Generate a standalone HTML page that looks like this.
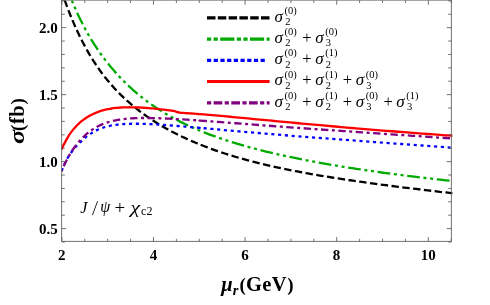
<!DOCTYPE html>
<html><head><meta charset="utf-8"><title>plot</title>
<style>html,body{margin:0;padding:0;background:#fff;}svg{display:block;will-change:transform;}text{font-family:"Liberation Serif",serif;fill:#000;}</style></head>
<body>
<svg width="490" height="305" viewBox="0 0 490 305">
<rect x="0" y="0" width="490" height="305" fill="#fff"/>
<defs><clipPath id="cp"><rect x="61.6" y="0" width="391.0" height="241.4"/></clipPath></defs>
<g clip-path="url(#cp)" fill="none" stroke-linejoin="round">
<path d="M61.60,-7.63 C61.93,-6.79 62.93,-4.33 63.60,-2.61 C64.27,-0.89 64.93,0.93 65.60,2.71 C66.27,4.49 66.93,6.29 67.60,8.05 C68.27,9.81 68.93,11.55 69.60,13.24 C70.27,14.93 70.93,16.58 71.60,18.19 C72.27,19.80 72.93,21.37 73.60,22.90 C74.27,24.44 74.93,25.94 75.60,27.41 C76.27,28.88 76.93,30.32 77.60,31.73 C78.27,33.15 78.93,34.53 79.60,35.89 C80.27,37.25 80.93,38.59 81.60,39.90 C82.27,41.21 82.93,42.50 83.60,43.76 C84.27,45.03 84.93,46.27 85.60,47.49 C86.27,48.71 86.93,49.91 87.60,51.08 C88.27,52.25 88.93,53.41 89.60,54.54 C90.27,55.67 90.93,56.78 91.60,57.86 C92.27,58.95 92.93,60.02 93.60,61.07 C94.27,62.12 94.93,63.14 95.60,64.15 C96.27,65.16 96.93,66.15 97.60,67.12 C98.27,68.10 98.93,69.05 99.60,69.98 C100.27,70.92 100.93,71.84 101.60,72.74 C102.27,73.64 102.93,74.52 103.60,75.39 C104.27,76.26 104.93,77.11 105.60,77.95 C106.27,78.79 106.93,79.61 107.60,80.42 C108.27,81.23 108.93,82.03 109.60,82.81 C110.27,83.59 110.93,84.36 111.60,85.12 C112.27,85.88 112.93,86.62 113.60,87.36 C114.27,88.09 114.93,88.81 115.60,89.52 C116.27,90.23 116.93,90.93 117.60,91.62 C118.27,92.31 118.93,92.98 119.60,93.65 C120.27,94.32 120.93,94.98 121.60,95.62 C122.27,96.27 122.93,96.91 123.60,97.54 C124.27,98.17 124.93,98.79 125.60,99.40 C126.27,100.01 126.93,100.62 127.60,101.21 C128.27,101.81 128.93,102.39 129.60,102.97 C130.27,103.55 130.93,104.12 131.60,104.68 C132.27,105.25 132.93,105.80 133.60,106.35 C134.27,106.90 134.93,107.44 135.60,107.97 C136.27,108.51 136.93,109.03 137.60,109.55 C138.27,110.07 138.93,110.59 139.60,111.10 C140.27,111.60 140.93,112.10 141.60,112.60 C142.27,113.09 142.93,113.58 143.60,114.07 C144.27,114.55 144.93,115.02 145.60,115.50 C146.27,115.97 146.93,116.43 147.60,116.89 C148.27,117.35 148.93,117.81 149.60,118.26 C150.27,118.71 150.93,119.15 151.60,119.59 C152.27,120.03 152.93,120.46 153.60,120.89 C154.27,121.32 154.93,121.75 155.60,122.17 C156.27,122.59 156.93,123.00 157.60,123.41 C158.27,123.82 158.93,124.23 159.60,124.63 C160.27,125.03 160.93,125.43 161.60,125.82 C162.27,126.21 162.93,126.60 163.60,126.98 C164.27,127.37 164.93,127.75 165.60,128.13 C166.27,128.50 166.93,128.87 167.60,129.24 C168.27,129.61 168.93,129.97 169.60,130.34 C170.27,130.70 170.93,131.05 171.60,131.41 C172.27,131.76 172.93,132.11 173.60,132.46 C174.27,132.80 174.93,133.14 175.60,133.48 C176.27,133.82 176.93,134.16 177.60,134.49 C178.27,134.82 178.93,135.15 179.60,135.48 C180.27,135.81 180.93,136.13 181.60,136.45 C182.27,136.77 182.93,137.08 183.60,137.40 C184.27,137.71 184.93,138.02 185.60,138.33 C186.27,138.64 186.93,138.94 187.60,139.24 C188.27,139.54 188.93,139.84 189.60,140.14 C190.27,140.43 190.93,140.73 191.60,141.02 C192.27,141.31 192.93,141.59 193.60,141.88 C194.27,142.16 194.93,142.45 195.60,142.73 C196.27,143.01 196.93,143.28 197.60,143.56 C198.27,143.83 199.20,144.21 199.60,144.37 C200.00,144.54 198.93,144.12 200.00,144.53 C201.07,144.95 204.00,146.12 206.00,146.89 C208.00,147.65 210.00,148.39 212.00,149.12 C214.00,149.84 216.00,150.55 218.00,151.23 C220.00,151.92 222.00,152.59 224.00,153.25 C226.00,153.90 228.00,154.54 230.00,155.16 C232.00,155.78 234.00,156.39 236.00,156.98 C238.00,157.57 240.00,158.15 242.00,158.71 C244.00,159.27 246.00,159.82 248.00,160.36 C250.00,160.90 252.00,161.42 254.00,161.94 C256.00,162.45 258.00,162.95 260.00,163.44 C262.00,163.93 264.00,164.41 266.00,164.88 C268.00,165.35 270.00,165.80 272.00,166.25 C274.00,166.70 276.00,167.14 278.00,167.57 C280.00,168.00 282.00,168.42 284.00,168.83 C286.00,169.25 288.00,169.65 290.00,170.05 C292.00,170.45 294.00,170.84 296.00,171.22 C298.00,171.61 300.00,171.98 302.00,172.35 C304.00,172.72 306.00,173.09 308.00,173.45 C310.00,173.80 312.00,174.16 314.00,174.50 C316.00,174.85 318.00,175.19 320.00,175.53 C322.00,175.87 324.00,176.20 326.00,176.52 C328.00,176.85 330.00,177.17 332.00,177.49 C334.00,177.81 336.00,178.12 338.00,178.43 C340.00,178.74 342.00,179.05 344.00,179.35 C346.00,179.65 348.00,179.95 350.00,180.25 C352.00,180.54 354.00,180.83 356.00,181.12 C358.00,181.41 360.00,181.70 362.00,181.98 C364.00,182.26 366.00,182.54 368.00,182.81 C370.00,183.09 372.00,183.36 374.00,183.63 C376.00,183.90 378.00,184.17 380.00,184.44 C382.00,184.70 384.00,184.97 386.00,185.23 C388.00,185.49 390.00,185.75 392.00,186.00 C394.00,186.26 396.00,186.51 398.00,186.77 C400.00,187.02 402.00,187.27 404.00,187.52 C406.00,187.76 408.00,188.01 410.00,188.25 C412.00,188.50 414.00,188.74 416.00,188.98 C418.00,189.22 420.00,189.46 422.00,189.70 C424.00,189.94 426.00,190.17 428.00,190.41 C430.00,190.64 432.00,190.88 434.00,191.11 C436.00,191.34 438.00,191.57 440.00,191.80 C442.00,192.03 444.10,192.27 446.00,192.48 C447.90,192.70 450.30,192.96 451.40,193.09 C452.50,193.21 452.40,193.20 452.60,193.22" stroke="#000" stroke-width="2.3" stroke-dasharray="7.4 3.465" stroke-dashoffset="2.8"/>
<path d="M68.60,-7.86 C68.93,-7.00 69.93,-4.36 70.60,-2.67 C71.27,-0.97 71.93,0.68 72.60,2.30 C73.27,3.91 73.93,5.49 74.60,7.04 C75.27,8.58 75.93,10.09 76.60,11.57 C77.27,13.05 77.93,14.49 78.60,15.91 C79.27,17.32 79.93,18.71 80.60,20.06 C81.27,21.42 81.93,22.74 82.60,24.05 C83.27,25.35 83.93,26.62 84.60,27.87 C85.27,29.12 85.93,30.34 86.60,31.54 C87.27,32.74 87.93,33.91 88.60,35.07 C89.27,36.22 89.93,37.35 90.60,38.46 C91.27,39.57 91.93,40.66 92.60,41.73 C93.27,42.81 93.93,43.86 94.60,44.89 C95.27,45.92 95.93,46.94 96.60,47.93 C97.27,48.93 97.93,49.91 98.60,50.88 C99.27,51.84 99.93,52.79 100.60,53.72 C101.27,54.66 101.93,55.57 102.60,56.48 C103.27,57.38 103.93,58.27 104.60,59.15 C105.27,60.03 105.93,60.89 106.60,61.74 C107.27,62.59 107.93,63.43 108.60,64.25 C109.27,65.08 109.93,65.89 110.60,66.69 C111.27,67.50 111.93,68.29 112.60,69.07 C113.27,69.85 113.93,70.61 114.60,71.37 C115.27,72.13 115.93,72.88 116.60,73.62 C117.27,74.35 117.93,75.08 118.60,75.80 C119.27,76.52 119.93,77.22 120.60,77.92 C121.27,78.62 121.93,79.31 122.60,79.99 C123.27,80.67 123.93,81.34 124.60,82.00 C125.27,82.66 125.93,83.31 126.60,83.96 C127.27,84.60 127.93,85.24 128.60,85.87 C129.27,86.49 129.93,87.11 130.60,87.72 C131.27,88.33 131.93,88.94 132.60,89.53 C133.27,90.13 133.93,90.72 134.60,91.30 C135.27,91.88 135.93,92.45 136.60,93.02 C137.27,93.58 137.93,94.14 138.60,94.69 C139.27,95.24 139.93,95.79 140.60,96.32 C141.27,96.86 141.93,97.39 142.60,97.92 C143.27,98.44 143.93,98.96 144.60,99.47 C145.27,99.98 145.93,100.49 146.60,100.98 C147.27,101.48 147.93,101.98 148.60,102.46 C149.27,102.95 149.93,103.43 150.60,103.90 C151.27,104.38 151.93,104.85 152.60,105.31 C153.27,105.78 153.93,106.23 154.60,106.69 C155.27,107.14 155.93,107.58 156.60,108.03 C157.27,108.47 157.93,108.90 158.60,109.34 C159.27,109.77 159.93,110.19 160.60,110.61 C161.27,111.03 161.93,111.45 162.60,111.86 C163.27,112.27 163.93,112.68 164.60,113.08 C165.27,113.48 165.93,113.88 166.60,114.27 C167.27,114.66 167.93,115.05 168.60,115.43 C169.27,115.82 169.93,116.19 170.60,116.57 C171.27,116.94 171.93,117.31 172.60,117.68 C173.27,118.04 173.93,118.41 174.60,118.76 C175.27,119.12 175.93,119.47 176.60,119.82 C177.27,120.17 177.93,120.52 178.60,120.86 C179.27,121.20 179.93,121.54 180.60,121.87 C181.27,122.21 181.93,122.54 182.60,122.87 C183.27,123.19 183.93,123.52 184.60,123.84 C185.27,124.16 185.93,124.47 186.60,124.79 C187.27,125.10 187.93,125.41 188.60,125.72 C189.27,126.03 189.93,126.33 190.60,126.63 C191.27,126.93 191.93,127.23 192.60,127.52 C193.27,127.82 193.93,128.11 194.60,128.40 C195.27,128.69 195.93,128.98 196.60,129.26 C197.27,129.54 198.03,129.86 198.60,130.10 C199.17,130.34 198.77,130.18 200.00,130.68 C201.23,131.18 204.00,132.30 206.00,133.08 C208.00,133.86 210.00,134.62 212.00,135.35 C214.00,136.09 216.00,136.81 218.00,137.51 C220.00,138.21 222.00,138.89 224.00,139.56 C226.00,140.22 228.00,140.87 230.00,141.51 C232.00,142.14 234.00,142.76 236.00,143.37 C238.00,143.97 240.00,144.57 242.00,145.14 C244.00,145.72 246.00,146.29 248.00,146.84 C250.00,147.40 252.00,147.94 254.00,148.47 C256.00,149.00 258.00,149.52 260.00,150.03 C262.00,150.54 264.00,151.04 266.00,151.53 C268.00,152.02 270.00,152.50 272.00,152.97 C274.00,153.45 276.00,153.91 278.00,154.36 C280.00,154.82 282.00,155.26 284.00,155.70 C286.00,156.14 288.00,156.57 290.00,156.99 C292.00,157.42 294.00,157.83 296.00,158.24 C298.00,158.65 300.00,159.05 302.00,159.45 C304.00,159.84 306.00,160.23 308.00,160.61 C310.00,160.99 312.00,161.37 314.00,161.74 C316.00,162.11 318.00,162.48 320.00,162.84 C322.00,163.20 324.00,163.55 326.00,163.90 C328.00,164.25 330.00,164.59 332.00,164.93 C334.00,165.27 336.00,165.60 338.00,165.93 C340.00,166.26 342.00,166.59 344.00,166.91 C346.00,167.23 348.00,167.54 350.00,167.85 C352.00,168.17 354.00,168.47 356.00,168.78 C358.00,169.08 360.00,169.38 362.00,169.68 C364.00,169.97 366.00,170.26 368.00,170.55 C370.00,170.84 372.00,171.13 374.00,171.41 C376.00,171.69 378.00,171.97 380.00,172.24 C382.00,172.52 384.00,172.79 386.00,173.06 C388.00,173.32 390.00,173.59 392.00,173.85 C394.00,174.11 396.00,174.37 398.00,174.63 C400.00,174.89 402.00,175.14 404.00,175.39 C406.00,175.64 408.00,175.89 410.00,176.13 C412.00,176.38 414.00,176.62 416.00,176.86 C418.00,177.10 420.00,177.34 422.00,177.58 C424.00,177.81 426.00,178.04 428.00,178.27 C430.00,178.50 432.00,178.73 434.00,178.96 C436.00,179.19 438.00,179.41 440.00,179.63 C442.00,179.85 444.33,180.11 446.00,180.29 C447.67,180.47 449.33,180.65 450.00,180.72" stroke="#00aa00" stroke-width="2.3" stroke-dasharray="3 3.7 3 3.7 12.7 3.7" stroke-dashoffset="20.9"/>
<path d="M61.60,171.12 C61.93,170.26 62.93,167.54 63.60,165.96 C64.27,164.39 64.93,162.99 65.60,161.67 C66.27,160.34 66.93,159.14 67.60,158.00 C68.27,156.86 68.93,155.81 69.60,154.81 C70.27,153.80 70.93,152.87 71.60,151.97 C72.27,151.07 72.93,150.22 73.60,149.40 C74.27,148.57 74.93,147.79 75.60,147.03 C76.27,146.27 76.93,145.54 77.60,144.83 C78.27,144.12 78.93,143.43 79.60,142.77 C80.27,142.10 80.93,141.46 81.60,140.83 C82.27,140.21 82.93,139.61 83.60,139.03 C84.27,138.46 84.93,137.90 85.60,137.37 C86.27,136.83 86.93,136.32 87.60,135.83 C88.27,135.34 88.93,134.87 89.60,134.41 C90.27,133.96 90.93,133.53 91.60,133.12 C92.27,132.70 92.93,132.31 93.60,131.93 C94.27,131.55 94.93,131.19 95.60,130.85 C96.27,130.51 96.93,130.18 97.60,129.87 C98.27,129.56 98.93,129.27 99.60,128.99 C100.27,128.71 100.93,128.45 101.60,128.20 C102.27,127.95 102.93,127.71 103.60,127.49 C104.27,127.27 104.93,127.07 105.60,126.88 C106.27,126.69 106.93,126.52 107.60,126.35 C108.27,126.19 108.93,126.03 109.60,125.89 C110.27,125.75 110.93,125.62 111.60,125.49 C112.27,125.37 112.93,125.25 113.60,125.14 C114.27,125.04 114.93,124.94 115.60,124.85 C116.27,124.75 116.93,124.67 117.60,124.59 C118.27,124.51 118.93,124.44 119.60,124.38 C120.27,124.31 120.93,124.25 121.60,124.20 C122.27,124.15 122.93,124.10 123.60,124.05 C124.27,124.01 124.93,123.97 125.60,123.94 C126.27,123.90 126.93,123.88 127.60,123.85 C128.27,123.82 128.93,123.80 129.60,123.79 C130.27,123.77 130.93,123.76 131.60,123.74 C132.27,123.73 132.93,123.73 133.60,123.72 C134.27,123.72 134.93,123.72 135.60,123.72 C136.27,123.72 136.93,123.73 137.60,123.74 C138.27,123.74 138.93,123.75 139.60,123.77 C140.27,123.78 140.93,123.79 141.60,123.81 C142.27,123.83 142.93,123.84 143.60,123.87 C144.27,123.89 144.93,123.91 145.60,123.93 C146.27,123.96 146.93,123.98 147.60,124.01 C148.27,124.04 148.93,124.07 149.60,124.10 C150.27,124.13 150.93,124.16 151.60,124.20 C152.27,124.23 152.93,124.27 153.60,124.30 C154.27,124.34 154.93,124.38 155.60,124.41 C156.27,124.45 156.93,124.49 157.60,124.53 C158.27,124.57 158.93,124.61 159.60,124.66 C160.27,124.70 160.93,124.74 161.60,124.79 C162.27,124.83 162.93,124.88 163.60,124.92 C164.27,124.97 164.93,125.01 165.60,125.06 C166.27,125.11 166.93,125.16 167.60,125.21 C168.27,125.25 168.93,125.30 169.60,125.35 C170.27,125.40 170.93,125.45 171.60,125.50 C172.27,125.56 172.93,125.61 173.60,125.66 C174.27,125.71 174.93,125.76 175.60,125.82 C176.27,125.87 176.93,125.92 177.60,125.98 C178.27,126.03 178.93,126.08 179.60,126.14 C180.27,126.19 180.93,126.25 181.60,126.30 C182.27,126.36 182.93,126.42 183.60,126.47 C184.27,126.53 184.93,126.58 185.60,126.64 C186.27,126.70 186.93,126.75 187.60,126.81 C188.27,126.87 188.93,126.93 189.60,126.98 C190.27,127.04 190.93,127.10 191.60,127.16 C192.27,127.21 192.93,127.27 193.60,127.33 C194.27,127.39 194.93,127.45 195.60,127.51 C196.27,127.57 196.93,127.62 197.60,127.68 C198.27,127.74 199.20,127.83 199.60,127.86 C200.00,127.90 198.93,127.80 200.00,127.90 C201.07,127.99 204.00,128.25 206.00,128.43 C208.00,128.61 210.00,128.79 212.00,128.97 C214.00,129.15 216.00,129.33 218.00,129.51 C220.00,129.69 222.00,129.87 224.00,130.05 C226.00,130.23 228.00,130.41 230.00,130.59 C232.00,130.77 234.00,130.94 236.00,131.12 C238.00,131.30 240.00,131.47 242.00,131.65 C244.00,131.83 246.00,132.00 248.00,132.17 C250.00,132.35 252.00,132.52 254.00,132.69 C256.00,132.86 258.00,133.03 260.00,133.20 C262.00,133.37 264.00,133.54 266.00,133.70 C268.00,133.87 270.00,134.03 272.00,134.20 C274.00,134.36 276.00,134.53 278.00,134.69 C280.00,134.85 282.00,135.01 284.00,135.17 C286.00,135.33 288.00,135.49 290.00,135.65 C292.00,135.81 294.00,135.97 296.00,136.13 C298.00,136.29 300.00,136.44 302.00,136.60 C304.00,136.76 306.00,136.91 308.00,137.07 C310.00,137.22 312.00,137.38 314.00,137.53 C316.00,137.68 318.00,137.84 320.00,137.99 C322.00,138.14 324.00,138.30 326.00,138.45 C328.00,138.60 330.00,138.75 332.00,138.90 C334.00,139.06 336.00,139.21 338.00,139.36 C340.00,139.51 342.00,139.66 344.00,139.81 C346.00,139.96 348.00,140.11 350.00,140.25 C352.00,140.40 354.00,140.55 356.00,140.70 C358.00,140.85 360.00,141.00 362.00,141.14 C364.00,141.29 366.00,141.44 368.00,141.59 C370.00,141.73 372.00,141.88 374.00,142.03 C376.00,142.17 378.00,142.32 380.00,142.47 C382.00,142.61 384.00,142.76 386.00,142.90 C388.00,143.05 390.00,143.19 392.00,143.34 C394.00,143.48 396.00,143.63 398.00,143.77 C400.00,143.92 402.00,144.06 404.00,144.21 C406.00,144.35 408.00,144.49 410.00,144.64 C412.00,144.78 414.00,144.93 416.00,145.07 C418.00,145.21 420.00,145.36 422.00,145.50 C424.00,145.64 426.00,145.78 428.00,145.93 C430.00,146.07 432.00,146.21 434.00,146.36 C436.00,146.50 438.00,146.64 440.00,146.78 C442.00,146.92 444.23,147.08 446.00,147.21 C447.77,147.33 449.83,147.48 450.60,147.53" stroke="#0000ff" stroke-width="2.3" stroke-dasharray="3.1 3.7"/>
<path d="M61.60,149.55 C61.93,148.80 62.93,146.49 63.60,145.08 C64.27,143.68 64.93,142.38 65.60,141.13 C66.27,139.89 66.93,138.73 67.60,137.62 C68.27,136.51 68.93,135.47 69.60,134.48 C70.27,133.49 70.93,132.56 71.60,131.66 C72.27,130.77 72.93,129.94 73.60,129.13 C74.27,128.33 74.93,127.58 75.60,126.85 C76.27,126.13 76.93,125.45 77.60,124.79 C78.27,124.14 78.93,123.53 79.60,122.93 C80.27,122.33 80.93,121.76 81.60,121.22 C82.27,120.67 82.93,120.15 83.60,119.66 C84.27,119.16 84.93,118.69 85.60,118.24 C86.27,117.79 86.93,117.36 87.60,116.95 C88.27,116.54 88.93,116.15 89.60,115.78 C90.27,115.41 90.93,115.05 91.60,114.71 C92.27,114.38 92.93,114.06 93.60,113.75 C94.27,113.44 94.93,113.15 95.60,112.87 C96.27,112.60 96.93,112.33 97.60,112.08 C98.27,111.83 98.93,111.59 99.60,111.37 C100.27,111.14 100.93,110.93 101.60,110.72 C102.27,110.52 102.93,110.32 103.60,110.14 C104.27,109.96 104.93,109.79 105.60,109.63 C106.27,109.48 106.93,109.34 107.60,109.20 C108.27,109.07 108.93,108.94 109.60,108.83 C110.27,108.71 110.93,108.60 111.60,108.50 C112.27,108.40 112.93,108.30 113.60,108.22 C114.27,108.13 114.93,108.05 115.60,107.98 C116.27,107.90 116.93,107.84 117.60,107.78 C118.27,107.72 118.93,107.66 119.60,107.61 C120.27,107.56 120.93,107.52 121.60,107.48 C122.27,107.45 122.93,107.42 123.60,107.39 C124.27,107.36 124.93,107.34 125.60,107.32 C126.27,107.30 126.93,107.29 127.60,107.28 C128.27,107.27 128.93,107.27 129.60,107.27 C130.27,107.27 130.93,107.27 131.60,107.28 C132.27,107.28 132.93,107.29 133.60,107.31 C134.27,107.32 134.93,107.34 135.60,107.36 C136.27,107.38 136.93,107.40 137.60,107.43 C138.27,107.46 138.93,107.49 139.60,107.52 C140.27,107.55 140.93,107.59 141.60,107.63 C142.27,107.67 142.93,107.71 143.60,107.75 C144.27,107.79 144.93,107.84 145.60,107.89 C146.27,107.93 146.93,107.99 147.60,108.04 C148.27,108.09 148.93,108.14 149.60,108.20 C150.27,108.26 150.93,108.32 151.60,108.38 C152.27,108.44 152.93,108.50 153.60,108.57 C154.27,108.63 154.93,108.70 155.60,108.76 C156.27,108.83 156.93,108.90 157.60,108.97 C158.27,109.04 158.93,109.12 159.60,109.19 C160.27,109.27 160.93,109.34 161.60,109.42 C162.27,109.50 162.93,109.57 163.60,109.65 C164.27,109.73 164.93,109.81 165.60,109.90 C166.27,109.98 166.93,110.06 167.60,110.15 C168.27,110.23 168.93,110.32 169.60,110.41 C170.27,110.49 170.93,110.58 171.60,110.67 C172.27,110.76 172.77,110.75 173.60,110.94 C174.43,111.13 175.58,111.51 176.60,111.80 C177.62,112.09 178.80,112.52 179.70,112.69 C180.60,112.86 181.28,112.79 182.00,112.83 C182.72,112.88 183.33,112.92 184.00,112.96 C184.67,113.01 185.33,113.05 186.00,113.10 C186.67,113.14 187.33,113.19 188.00,113.24 C188.67,113.28 189.33,113.33 190.00,113.38 C190.67,113.43 191.33,113.48 192.00,113.52 C192.67,113.57 193.33,113.62 194.00,113.67 C194.67,113.73 195.33,113.78 196.00,113.83 C196.67,113.88 197.33,113.93 198.00,113.98 C198.67,114.04 198.67,114.03 200.00,114.14 C201.33,114.25 204.00,114.47 206.00,114.64 C208.00,114.80 210.00,114.97 212.00,115.15 C214.00,115.32 216.00,115.50 218.00,115.67 C220.00,115.85 222.00,116.03 224.00,116.21 C226.00,116.40 228.00,116.58 230.00,116.76 C232.00,116.95 234.00,117.13 236.00,117.32 C238.00,117.51 240.00,117.69 242.00,117.88 C244.00,118.07 246.00,118.26 248.00,118.45 C250.00,118.64 252.00,118.83 254.00,119.02 C256.00,119.21 258.00,119.40 260.00,119.59 C262.00,119.78 264.00,119.97 266.00,120.16 C268.00,120.35 270.00,120.54 272.00,120.73 C274.00,120.92 276.00,121.11 278.00,121.29 C280.00,121.48 282.00,121.67 284.00,121.86 C286.00,122.05 288.00,122.24 290.00,122.42 C292.00,122.61 294.00,122.80 296.00,122.98 C298.00,123.17 300.00,123.35 302.00,123.54 C304.00,123.72 306.00,123.91 308.00,124.09 C310.00,124.27 312.00,124.45 314.00,124.64 C316.00,124.82 318.00,125.00 320.00,125.18 C322.00,125.36 324.00,125.54 326.00,125.71 C328.00,125.89 330.00,126.07 332.00,126.25 C334.00,126.42 336.00,126.60 338.00,126.77 C340.00,126.95 342.00,127.12 344.00,127.30 C346.00,127.47 348.00,127.64 350.00,127.81 C352.00,127.98 354.00,128.15 356.00,128.32 C358.00,128.49 360.00,128.66 362.00,128.83 C364.00,129.00 366.00,129.16 368.00,129.33 C370.00,129.49 372.00,129.66 374.00,129.82 C376.00,129.99 378.00,130.15 380.00,130.31 C382.00,130.47 384.00,130.63 386.00,130.79 C388.00,130.95 390.00,131.11 392.00,131.27 C394.00,131.43 396.00,131.58 398.00,131.74 C400.00,131.90 402.00,132.05 404.00,132.21 C406.00,132.36 408.00,132.51 410.00,132.67 C412.00,132.82 414.00,132.97 416.00,133.12 C418.00,133.27 420.00,133.42 422.00,133.57 C424.00,133.72 426.00,133.87 428.00,134.01 C430.00,134.16 432.00,134.31 434.00,134.45 C436.00,134.60 438.00,134.74 440.00,134.88 C442.00,135.03 444.10,135.18 446.00,135.31 C447.90,135.45 450.30,135.61 451.40,135.69 C452.50,135.77 452.40,135.76 452.60,135.78" stroke="#ff0000" stroke-width="2.3"/>
<path d="M61.60,171.06 C61.93,170.29 62.93,167.93 63.60,166.46 C64.27,164.99 64.93,163.59 65.60,162.24 C66.27,160.89 66.93,159.61 67.60,158.37 C68.27,157.13 68.93,155.95 69.60,154.81 C70.27,153.67 70.93,152.59 71.60,151.54 C72.27,150.49 72.93,149.49 73.60,148.53 C74.27,147.57 74.93,146.65 75.60,145.77 C76.27,144.88 76.93,144.04 77.60,143.22 C78.27,142.41 78.93,141.63 79.60,140.88 C80.27,140.13 80.93,139.41 81.60,138.71 C82.27,138.02 82.93,137.35 83.60,136.71 C84.27,136.07 84.93,135.46 85.60,134.87 C86.27,134.28 86.93,133.72 87.60,133.17 C88.27,132.63 88.93,132.11 89.60,131.61 C90.27,131.11 90.93,130.64 91.60,130.18 C92.27,129.72 92.93,129.28 93.60,128.86 C94.27,128.44 94.93,128.04 95.60,127.65 C96.27,127.27 96.93,126.90 97.60,126.55 C98.27,126.19 98.93,125.86 99.60,125.53 C100.27,125.21 100.93,124.91 101.60,124.61 C102.27,124.32 102.93,124.04 103.60,123.77 C104.27,123.51 104.93,123.25 105.60,123.02 C106.27,122.78 106.93,122.56 107.60,122.34 C108.27,122.13 108.93,121.93 109.60,121.74 C110.27,121.55 110.93,121.37 111.60,121.20 C112.27,121.03 112.93,120.88 113.60,120.73 C114.27,120.58 114.93,120.43 115.60,120.30 C116.27,120.17 116.93,120.04 117.60,119.93 C118.27,119.81 118.93,119.70 119.60,119.60 C120.27,119.49 120.93,119.40 121.60,119.31 C122.27,119.22 122.93,119.13 123.60,119.06 C124.27,118.98 124.93,118.90 125.60,118.84 C126.27,118.77 126.93,118.71 127.60,118.65 C128.27,118.59 128.93,118.54 129.60,118.49 C130.27,118.44 130.93,118.40 131.60,118.36 C132.27,118.32 132.93,118.28 133.60,118.25 C134.27,118.21 134.93,118.19 135.60,118.16 C136.27,118.13 136.93,118.11 137.60,118.09 C138.27,118.07 138.93,118.05 139.60,118.04 C140.27,118.03 140.93,118.02 141.60,118.01 C142.27,118.00 142.93,117.99 143.60,117.99 C144.27,117.98 144.93,117.98 145.60,117.98 C146.27,117.98 146.93,117.99 147.60,117.99 C148.27,118.00 148.93,118.00 149.60,118.01 C150.27,118.02 150.93,118.03 151.60,118.04 C152.27,118.05 152.93,118.07 153.60,118.08 C154.27,118.10 154.93,118.11 155.60,118.13 C156.27,118.15 156.93,118.17 157.60,118.19 C158.27,118.21 158.93,118.23 159.60,118.25 C160.27,118.28 160.93,118.30 161.60,118.33 C162.27,118.35 162.93,118.38 163.60,118.41 C164.27,118.43 164.93,118.46 165.60,118.49 C166.27,118.52 166.93,118.55 167.60,118.58 C168.27,118.61 168.93,118.64 169.60,118.68 C170.27,118.71 170.93,118.74 171.60,118.78 C172.27,118.81 172.93,118.85 173.60,118.88 C174.27,118.92 174.93,118.96 175.60,118.99 C176.27,119.03 176.93,119.07 177.60,119.11 C178.27,119.15 178.93,119.18 179.60,119.22 C180.27,119.26 180.93,119.30 181.60,119.34 C182.27,119.39 182.93,119.43 183.60,119.47 C184.27,119.51 184.93,119.55 185.60,119.60 C186.27,119.64 186.93,119.68 187.60,119.72 C188.27,119.77 188.93,119.81 189.60,119.86 C190.27,119.90 190.93,119.95 191.60,119.99 C192.27,120.04 192.93,120.08 193.60,120.13 C194.27,120.17 194.93,120.22 195.60,120.26 C196.27,120.31 196.93,120.36 197.60,120.40 C198.27,120.45 199.20,120.52 199.60,120.55 C200.00,120.57 198.93,120.50 200.00,120.57 C201.07,120.65 204.00,120.86 206.00,121.01 C208.00,121.15 210.00,121.30 212.00,121.45 C214.00,121.60 216.00,121.75 218.00,121.90 C220.00,122.05 222.00,122.20 224.00,122.36 C226.00,122.51 228.00,122.66 230.00,122.81 C232.00,122.97 234.00,123.12 236.00,123.27 C238.00,123.43 240.00,123.58 242.00,123.73 C244.00,123.88 246.00,124.04 248.00,124.19 C250.00,124.34 252.00,124.49 254.00,124.64 C256.00,124.79 258.00,124.94 260.00,125.09 C262.00,125.24 264.00,125.39 266.00,125.54 C268.00,125.69 270.00,125.83 272.00,125.98 C274.00,126.13 276.00,126.28 278.00,126.42 C280.00,126.57 282.00,126.71 284.00,126.86 C286.00,127.00 288.00,127.15 290.00,127.29 C292.00,127.44 294.00,127.58 296.00,127.72 C298.00,127.87 300.00,128.01 302.00,128.15 C304.00,128.30 306.00,128.44 308.00,128.58 C310.00,128.72 312.00,128.86 314.00,129.01 C316.00,129.15 318.00,129.29 320.00,129.43 C322.00,129.57 324.00,129.71 326.00,129.85 C328.00,129.99 330.00,130.13 332.00,130.27 C334.00,130.41 336.00,130.55 338.00,130.69 C340.00,130.83 342.00,130.96 344.00,131.10 C346.00,131.24 348.00,131.38 350.00,131.52 C352.00,131.66 354.00,131.79 356.00,131.93 C358.00,132.07 360.00,132.21 362.00,132.34 C364.00,132.48 366.00,132.62 368.00,132.75 C370.00,132.89 372.00,133.03 374.00,133.16 C376.00,133.30 378.00,133.44 380.00,133.57 C382.00,133.71 384.00,133.84 386.00,133.98 C388.00,134.12 390.00,134.25 392.00,134.39 C394.00,134.52 396.00,134.66 398.00,134.79 C400.00,134.93 402.00,135.06 404.00,135.20 C406.00,135.33 408.00,135.47 410.00,135.60 C412.00,135.73 414.00,135.87 416.00,136.00 C418.00,136.14 420.00,136.27 422.00,136.40 C424.00,136.54 426.00,136.67 428.00,136.81 C430.00,136.94 432.00,137.07 434.00,137.21 C436.00,137.34 438.00,137.47 440.00,137.60 C442.00,137.74 444.10,137.88 446.00,138.00 C447.90,138.13 450.33,138.29 451.40,138.36 C452.47,138.43 452.23,138.41 452.40,138.43" stroke="#800080" stroke-width="2.3" stroke-dasharray="3 3.5 7.4 3.5" stroke-dashoffset="1.3"/>
</g>
<g stroke="#585858" stroke-width="0.85" fill="none">
<path d="M61.6,-1.0 V241.4 H451.4 V-1.0"/>
<path d="M61.6,0.4 H451.4" stroke="#8a8a8a"/>
<path d="M61.85,241.4 v-4.3 M61.85,0.4 v4.3 M84.75,241.4 v-2.6 M84.75,0.4 v2.6 M107.66,241.4 v-2.6 M107.66,0.4 v2.6 M130.56,241.4 v-2.6 M130.56,0.4 v2.6 M153.47,241.4 v-4.3 M153.47,0.4 v4.3 M176.38,241.4 v-2.6 M176.38,0.4 v2.6 M199.28,241.4 v-2.6 M199.28,0.4 v2.6 M222.19,241.4 v-2.6 M222.19,0.4 v2.6 M245.09,241.4 v-4.3 M245.09,0.4 v4.3 M268.00,241.4 v-2.6 M268.00,0.4 v2.6 M290.90,241.4 v-2.6 M290.90,0.4 v2.6 M313.81,241.4 v-2.6 M313.81,0.4 v2.6 M336.71,241.4 v-4.3 M336.71,0.4 v4.3 M359.62,241.4 v-2.6 M359.62,0.4 v2.6 M382.52,241.4 v-2.6 M382.52,0.4 v2.6 M405.43,241.4 v-2.6 M405.43,0.4 v2.6 M428.33,241.4 v-4.3 M428.33,0.4 v4.3 M451.24,241.4 v-2.6 M451.24,0.4 v2.6 M61.6,242.00 h3.2 M451.4,242.00 h-3.2 M61.6,228.60 h4.7 M451.4,228.60 h-4.7 M61.6,215.20 h3.2 M451.4,215.20 h-3.2 M61.6,201.81 h3.2 M451.4,201.81 h-3.2 M61.6,188.41 h3.2 M451.4,188.41 h-3.2 M61.6,175.01 h3.2 M451.4,175.01 h-3.2 M61.6,161.62 h4.7 M451.4,161.62 h-4.7 M61.6,148.22 h3.2 M451.4,148.22 h-3.2 M61.6,134.82 h3.2 M451.4,134.82 h-3.2 M61.6,121.42 h3.2 M451.4,121.42 h-3.2 M61.6,108.03 h3.2 M451.4,108.03 h-3.2 M61.6,94.63 h4.7 M451.4,94.63 h-4.7 M61.6,81.23 h3.2 M451.4,81.23 h-3.2 M61.6,67.84 h3.2 M451.4,67.84 h-3.2 M61.6,54.44 h3.2 M451.4,54.44 h-3.2 M61.6,41.04 h3.2 M451.4,41.04 h-3.2 M61.6,27.65 h4.7 M451.4,27.65 h-4.7 M61.6,14.25 h3.2 M451.4,14.25 h-3.2 M61.6,0.85 h3.2 M451.4,0.85 h-3.2"/>
</g>
<g font-weight="bold" font-size="15px">
<text x="61.8" y="259.6" text-anchor="middle">2</text>
<text x="153.4" y="259.6" text-anchor="middle">4</text>
<text x="245.0" y="259.6" text-anchor="middle">6</text>
<text x="336.6" y="259.6" text-anchor="middle">8</text>
<text x="428.2" y="259.6" text-anchor="middle">10</text>
<text x="57.7" y="234.2" text-anchor="end">0.5</text>
<text x="57.7" y="167.2" text-anchor="end">1.0</text>
<text x="57.7" y="100.2" text-anchor="end">1.5</text>
<text x="57.7" y="33.2" text-anchor="end">2.0</text>
</g>
<text x="221.3" y="291.1" font-size="20.5px" font-weight="bold"><tspan font-style="italic">μ</tspan><tspan font-style="italic" font-size="14.5px" dy="4">r</tspan><tspan x="239.4" dy="-4.4" font-size="19px">(</tspan><tspan x="246.0" dy="0.4" letter-spacing="0.3">GeV</tspan><tspan font-size="19px" dx="0.4" dy="-0.4">)</tspan></text>
<g transform="translate(23.9,143.9) rotate(-90)" font-size="20.5px" font-weight="bold"><text transform="scale(1.28,1)" font-style="italic">σ</text><text x="12.9" letter-spacing="0.45"><tspan font-size="19px" dy="-0.4">(</tspan><tspan dy="0.4" dx="0.3">fb</tspan><tspan font-size="19px" dx="0.3" dy="-0.4">)</tspan></text></g>
<text x="80.2" y="212.8" font-size="16px" font-style="italic">J</text>
<path d="M92.4,215.2 L97.6,201.2" stroke="#000" stroke-width="0.85" fill="none"/>
<text x="100.2" y="212.3" font-size="16px" font-style="italic">ψ</text>
<text x="114.4" y="214.0" font-size="19px">+</text>
<text transform="translate(130.6,212.6) scale(1.32,1)" font-size="16.5px" font-style="italic">χ</text>
<text x="141.1" y="215.4" font-size="12px">c2</text>
<g fill="none" stroke-width="3.1">
<path d="M207,17.9 H269.6" stroke="#000" stroke-dasharray="8.5 2.3"/>
<path d="M207,39.1 H269.6" stroke="#00aa00" stroke-dasharray="4.2 2.4 4.2 2.4 14.2 2.4"/>
<path d="M207,60.4 H265.4" stroke="#0000ff" stroke-dasharray="4.2 2.5"/>
<path d="M207,81.5 H269.6" stroke="#ff0000"/>
<path d="M207,102.9 H269.6" stroke="#800080" stroke-dasharray="4.2 2.4 8.7 2.4"/>
</g>
<text x="274.6" y="21.5" font-size="17px" font-style="italic">σ</text>
<text x="285.2" y="25.1" font-size="10.5px">2</text>
<text x="284.6" y="13.9" font-size="10.5px">(0)</text>
<text x="274.6" y="42.7" font-size="17px" font-style="italic">σ</text>
<text x="285.2" y="46.3" font-size="10.5px">2</text>
<text x="284.6" y="35.1" font-size="10.5px">(0)</text>
<text x="302.3" y="42.7" font-size="16.5px">+</text>
<text x="315.2" y="42.7" font-size="17px" font-style="italic">σ</text>
<text x="325.8" y="46.3" font-size="10.5px">3</text>
<text x="325.2" y="35.1" font-size="10.5px">(0)</text>
<text x="274.6" y="64.0" font-size="17px" font-style="italic">σ</text>
<text x="285.2" y="67.6" font-size="10.5px">2</text>
<text x="284.6" y="56.4" font-size="10.5px">(0)</text>
<text x="302.3" y="64.0" font-size="16.5px">+</text>
<text x="315.2" y="64.0" font-size="17px" font-style="italic">σ</text>
<text x="325.8" y="67.6" font-size="10.5px">2</text>
<text x="325.2" y="56.4" font-size="10.5px">(1)</text>
<text x="274.6" y="85.1" font-size="17px" font-style="italic">σ</text>
<text x="285.2" y="88.7" font-size="10.5px">2</text>
<text x="284.6" y="77.5" font-size="10.5px">(0)</text>
<text x="302.3" y="85.1" font-size="16.5px">+</text>
<text x="315.2" y="85.1" font-size="17px" font-style="italic">σ</text>
<text x="325.8" y="88.7" font-size="10.5px">2</text>
<text x="325.2" y="77.5" font-size="10.5px">(1)</text>
<text x="342.8" y="85.1" font-size="16.5px">+</text>
<text x="355.7" y="85.1" font-size="17px" font-style="italic">σ</text>
<text x="366.3" y="88.7" font-size="10.5px">3</text>
<text x="365.7" y="77.5" font-size="10.5px">(0)</text>
<text x="274.6" y="106.5" font-size="17px" font-style="italic">σ</text>
<text x="285.2" y="110.1" font-size="10.5px">2</text>
<text x="284.6" y="98.9" font-size="10.5px">(0)</text>
<text x="302.3" y="106.5" font-size="16.5px">+</text>
<text x="315.2" y="106.5" font-size="17px" font-style="italic">σ</text>
<text x="325.8" y="110.1" font-size="10.5px">2</text>
<text x="325.2" y="98.9" font-size="10.5px">(1)</text>
<text x="342.8" y="106.5" font-size="16.5px">+</text>
<text x="355.7" y="106.5" font-size="17px" font-style="italic">σ</text>
<text x="366.3" y="110.1" font-size="10.5px">3</text>
<text x="365.7" y="98.9" font-size="10.5px">(0)</text>
<text x="383.4" y="106.5" font-size="16.5px">+</text>
<text x="396.2" y="106.5" font-size="17px" font-style="italic">σ</text>
<text x="406.9" y="110.1" font-size="10.5px">3</text>
<text x="406.2" y="98.9" font-size="10.5px">(1)</text>
</svg>
</body></html>
